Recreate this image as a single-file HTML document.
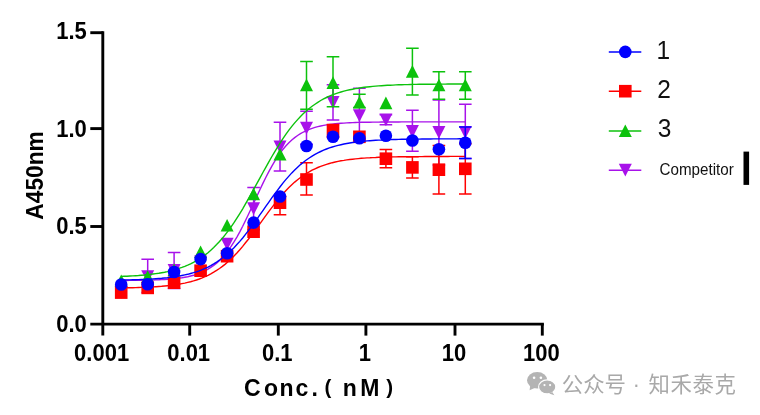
<!DOCTYPE html>
<html><head><meta charset="utf-8"><title>chart</title>
<style>
html,body{margin:0;padding:0;background:#fff;}
body{width:760px;height:415px;overflow:hidden;}
svg{display:block;filter:blur(0.5px);}
text{font-family:"Liberation Sans","Noto Sans CJK SC",sans-serif;}
.tk{font-size:22px;font-weight:bold;fill:#000;}
.lg{font-size:24.5px;fill:#111;}
.cp{font-size:15.2px;fill:#111;}
.yl{font-size:24px;font-weight:bold;fill:#000;}
.xl{font-size:23px;font-weight:bold;fill:#000;}
.wm{font-size:21.4px;fill:#a9a9a9;font-family:"Liberation Sans","Noto Sans CJK SC",sans-serif;}
</style></head><body>
<svg width="760" height="415" viewBox="0 0 760 415">
<rect width="760" height="415" fill="#fff"/>
<g>
<path d="M121.2,280.5 L124.1,280.5 L127.0,280.5 L129.9,280.4 L132.8,280.4 L135.7,280.4 L138.5,280.3 L141.4,280.3 L144.3,280.2 L147.2,280.2 L150.1,280.1 L153.0,280.0 L155.9,279.9 L158.8,279.8 L161.7,279.6 L164.6,279.5 L167.5,279.3 L170.4,279.1 L173.2,278.8 L176.1,278.5 L179.0,278.1 L181.9,277.7 L184.8,277.2 L187.7,276.7 L190.6,276.0 L193.5,275.3 L196.4,274.4 L199.3,273.4 L202.2,272.2 L205.1,270.8 L208.0,269.2 L210.8,267.4 L213.7,265.4 L216.6,263.1 L219.5,260.4 L222.4,257.5 L225.3,254.1 L228.2,250.4 L231.1,246.4 L234.0,241.9 L236.9,237.1 L239.8,231.9 L242.7,226.3 L245.5,220.5 L248.4,214.5 L251.3,208.3 L254.2,202.0 L257.1,195.7 L260.0,189.5 L262.9,183.4 L265.8,177.5 L268.7,171.9 L271.6,166.6 L274.5,161.7 L277.4,157.1 L280.3,153.0 L283.1,149.2 L286.0,145.8 L288.9,142.7 L291.8,140.0 L294.7,137.6 L297.6,135.5 L300.5,133.7 L303.4,132.0 L306.3,130.6 L309.2,129.4 L312.1,128.3 L315.0,127.4 L317.8,126.6 L320.7,126.0 L323.6,125.4 L326.5,124.9 L329.4,124.4 L332.3,124.1 L335.2,123.8 L338.1,123.5 L341.0,123.3 L343.9,123.1 L346.8,122.9 L349.7,122.7 L352.6,122.6 L355.4,122.5 L358.3,122.4 L361.2,122.3 L364.1,122.3 L367.0,122.2 L369.9,122.2 L372.8,122.1 L375.7,122.1 L378.6,122.1 L381.5,122.0 L384.4,122.0 L387.3,122.0 L390.1,122.0 L393.0,122.0 L395.9,122.0 L398.8,122.0 L401.7,121.9 L404.6,121.9 L407.5,121.9 L410.4,121.9 L413.3,121.9 L416.2,121.9 L419.1,121.9 L422.0,121.9 L424.9,121.9 L427.7,121.9 L430.6,121.9 L433.5,121.9 L436.4,121.9 L439.3,121.9 L442.2,121.9 L445.1,121.9 L448.0,121.9 L450.9,121.9 L453.8,121.9 L456.7,121.9 L459.6,121.9 L462.4,121.9 L465.3,121.9" stroke="#a812ea" stroke-width="1.4" fill="none"/>
<path d="M465.3,104.2V158.6M459.0,104.2H471.6M459.0,158.6H471.6" stroke="#a812ea" stroke-width="1.5" fill="none"/>
<path d="M438.9,99.9V164.9M432.6,99.9H445.2M432.6,164.9H445.2" stroke="#a812ea" stroke-width="1.5" fill="none"/>
<path d="M412.4,110.3V151.2M406.1,110.3H418.7M406.1,151.2H418.7" stroke="#a812ea" stroke-width="1.5" fill="none"/>
<path d="M385.9,114.8V124.8M379.6,114.8H392.2M379.6,124.8H392.2" stroke="#a812ea" stroke-width="1.5" fill="none"/>
<path d="M359.4,88.3V139.7M353.1,88.3H365.7M353.1,139.7H365.7" stroke="#a812ea" stroke-width="1.5" fill="none"/>
<path d="M333.0,84.7V120.1M326.7,84.7H339.3M326.7,120.1H339.3" stroke="#a812ea" stroke-width="1.5" fill="none"/>
<path d="M306.5,111.2V144.2M300.2,111.2H312.8M300.2,144.2H312.8" stroke="#a812ea" stroke-width="1.5" fill="none"/>
<path d="M280.0,122.2V171.0M273.7,122.2H286.3M273.7,171.0H286.3" stroke="#a812ea" stroke-width="1.5" fill="none"/>
<path d="M253.6,187.4V229.8M247.3,187.4H259.9M247.3,229.8H259.9" stroke="#a812ea" stroke-width="1.5" fill="none"/>
<path d="M174.1,252.5V288.5M167.8,252.5H180.4M167.8,288.5H180.4" stroke="#a812ea" stroke-width="1.5" fill="none"/>
<path d="M147.7,259.3V292.6M141.4,259.3H154.0M141.4,292.6H154.0" stroke="#a812ea" stroke-width="1.5" fill="none"/>
<polygon points="465.3,138.8 471.8,126.0 458.8,126.0" fill="#a812ea"/>
<polygon points="438.9,138.8 445.4,126.0 432.4,126.0" fill="#a812ea"/>
<polygon points="412.4,137.9 418.9,125.1 405.9,125.1" fill="#a812ea"/>
<polygon points="385.9,126.2 392.4,113.4 379.4,113.4" fill="#a812ea"/>
<polygon points="359.4,122.1 365.9,109.3 352.9,109.3" fill="#a812ea"/>
<polygon points="333.0,108.9 339.5,96.1 326.5,96.1" fill="#a812ea"/>
<polygon points="306.5,134.6 313.0,121.8 300.0,121.8" fill="#a812ea"/>
<polygon points="280.0,153.4 286.5,140.6 273.5,140.6" fill="#a812ea"/>
<polygon points="253.6,215.0 260.1,202.2 247.1,202.2" fill="#a812ea"/>
<polygon points="227.1,250.6 233.6,237.8 220.6,237.8" fill="#a812ea"/>
<polygon points="200.6,268.4 207.1,255.6 194.1,255.6" fill="#a812ea"/>
<polygon points="174.1,276.9 180.6,264.1 167.6,264.1" fill="#a812ea"/>
<polygon points="147.7,283.0 154.2,270.2 141.2,270.2" fill="#a812ea"/>
<polygon points="121.2,298.4 127.7,285.6 114.7,285.6" fill="#a812ea"/>
</g>
<g>
<path d="M121.2,276.4 L124.1,276.3 L127.0,276.2 L129.9,276.0 L132.8,275.9 L135.7,275.7 L138.5,275.5 L141.4,275.2 L144.3,275.0 L147.2,274.7 L150.1,274.4 L153.0,274.0 L155.9,273.6 L158.8,273.2 L161.7,272.7 L164.6,272.2 L167.5,271.6 L170.4,270.9 L173.2,270.2 L176.1,269.3 L179.0,268.4 L181.9,267.4 L184.8,266.3 L187.7,265.1 L190.6,263.8 L193.5,262.3 L196.4,260.7 L199.3,259.0 L202.2,257.0 L205.1,254.9 L208.0,252.7 L210.8,250.2 L213.7,247.5 L216.6,244.6 L219.5,241.5 L222.4,238.2 L225.3,234.6 L228.2,230.9 L231.1,226.9 L234.0,222.7 L236.9,218.2 L239.8,213.6 L242.7,208.8 L245.5,203.9 L248.4,198.8 L251.3,193.7 L254.2,188.4 L257.1,183.1 L260.0,177.8 L262.9,172.5 L265.8,167.3 L268.7,162.1 L271.6,157.0 L274.5,152.1 L277.4,147.3 L280.3,142.7 L283.1,138.3 L286.0,134.2 L288.9,130.2 L291.8,126.4 L294.7,122.9 L297.6,119.6 L300.5,116.5 L303.4,113.6 L306.3,111.0 L309.2,108.5 L312.1,106.3 L315.0,104.2 L317.8,102.3 L320.7,100.5 L323.6,98.9 L326.5,97.5 L329.4,96.1 L332.3,94.9 L335.2,93.9 L338.1,92.9 L341.0,92.0 L343.9,91.2 L346.8,90.4 L349.7,89.8 L352.6,89.2 L355.4,88.6 L358.3,88.2 L361.2,87.7 L364.1,87.3 L367.0,87.0 L369.9,86.7 L372.8,86.4 L375.7,86.1 L378.6,85.9 L381.5,85.7 L384.4,85.5 L387.3,85.3 L390.1,85.2 L393.0,85.1 L395.9,84.9 L398.8,84.8 L401.7,84.7 L404.6,84.6 L407.5,84.6 L410.4,84.5 L413.3,84.4 L416.2,84.4 L419.1,84.3 L422.0,84.3 L424.9,84.2 L427.7,84.2 L430.6,84.2 L433.5,84.2 L436.4,84.1 L439.3,84.1 L442.2,84.1 L445.1,84.1 L448.0,84.0 L450.9,84.0 L453.8,84.0 L456.7,84.0 L459.6,84.0 L462.4,84.0 L465.3,84.0" stroke="#0cc20c" stroke-width="1.4" fill="none"/>
<path d="M465.3,71.7V99.2M459.0,71.7H471.6M459.0,99.2H471.6" stroke="#0cc20c" stroke-width="1.5" fill="none"/>
<path d="M438.9,71.7V99.2M432.6,71.7H445.2M432.6,99.2H445.2" stroke="#0cc20c" stroke-width="1.5" fill="none"/>
<path d="M412.4,48.2V95.0M406.1,48.2H418.7M406.1,95.0H418.7" stroke="#0cc20c" stroke-width="1.5" fill="none"/>
<path d="M359.4,94.2V107.4M353.1,94.2H365.7M353.1,107.4H365.7" stroke="#0cc20c" stroke-width="1.5" fill="none"/>
<path d="M333.0,56.8V106.8M326.7,56.8H339.3M326.7,106.8H339.3" stroke="#0cc20c" stroke-width="1.5" fill="none"/>
<path d="M306.5,61.6V109.3M300.2,61.6H312.8M300.2,109.3H312.8" stroke="#0cc20c" stroke-width="1.5" fill="none"/>
<polygon points="465.3,78.7 471.8,91.3 458.8,91.3" fill="#0cc20c"/>
<polygon points="438.9,78.7 445.4,91.3 432.4,91.3" fill="#0cc20c"/>
<polygon points="412.4,65.1 418.9,77.7 405.9,77.7" fill="#0cc20c"/>
<polygon points="385.9,96.6 392.4,109.2 379.4,109.2" fill="#0cc20c"/>
<polygon points="359.4,95.9 365.9,108.5 352.9,108.5" fill="#0cc20c"/>
<polygon points="333.0,76.3 339.5,88.9 326.5,88.9" fill="#0cc20c"/>
<polygon points="306.5,78.6 313.0,91.2 300.0,91.2" fill="#0cc20c"/>
<polygon points="280.0,148.0 286.5,160.6 273.5,160.6" fill="#0cc20c"/>
<polygon points="253.6,187.7 260.1,200.3 247.1,200.3" fill="#0cc20c"/>
<polygon points="227.1,218.9 233.6,231.5 220.6,231.5" fill="#0cc20c"/>
<polygon points="200.6,245.5 207.1,258.1 194.1,258.1" fill="#0cc20c"/>
<polygon points="174.1,263.5 180.6,276.1 167.6,276.1" fill="#0cc20c"/>
<polygon points="147.7,270.3 154.2,282.9 141.2,282.9" fill="#0cc20c"/>
<polygon points="121.2,274.4 127.7,287.0 114.7,287.0" fill="#0cc20c"/>
</g>
<g>
<path d="M121.2,287.9 L124.1,287.9 L127.0,287.8 L129.9,287.8 L132.8,287.7 L135.7,287.6 L138.5,287.5 L141.4,287.4 L144.3,287.3 L147.2,287.2 L150.1,287.0 L153.0,286.9 L155.9,286.7 L158.8,286.5 L161.7,286.3 L164.6,286.0 L167.5,285.7 L170.4,285.4 L173.2,285.0 L176.1,284.6 L179.0,284.2 L181.9,283.6 L184.8,283.1 L187.7,282.4 L190.6,281.7 L193.5,280.9 L196.4,280.0 L199.3,279.0 L202.2,277.9 L205.1,276.7 L208.0,275.4 L210.8,273.9 L213.7,272.2 L216.6,270.4 L219.5,268.5 L222.4,266.4 L225.3,264.1 L228.2,261.6 L231.1,258.9 L234.0,256.0 L236.9,253.0 L239.8,249.8 L242.7,246.4 L245.5,242.8 L248.4,239.2 L251.3,235.4 L254.2,231.5 L257.1,227.6 L260.0,223.6 L262.9,219.6 L265.8,215.6 L268.7,211.7 L271.6,207.8 L274.5,204.1 L277.4,200.5 L280.3,197.0 L283.1,193.7 L286.0,190.5 L288.9,187.5 L291.8,184.7 L294.7,182.1 L297.6,179.7 L300.5,177.5 L303.4,175.4 L306.3,173.5 L309.2,171.8 L312.1,170.2 L315.0,168.8 L317.8,167.5 L320.7,166.3 L323.6,165.3 L326.5,164.3 L329.4,163.5 L332.3,162.7 L335.2,162.0 L338.1,161.4 L341.0,160.8 L343.9,160.4 L346.8,159.9 L349.7,159.5 L352.6,159.2 L355.4,158.9 L358.3,158.6 L361.2,158.3 L364.1,158.1 L367.0,157.9 L369.9,157.8 L372.8,157.6 L375.7,157.5 L378.6,157.3 L381.5,157.2 L384.4,157.1 L387.3,157.1 L390.1,157.0 L393.0,156.9 L395.9,156.9 L398.8,156.8 L401.7,156.8 L404.6,156.7 L407.5,156.7 L410.4,156.7 L413.3,156.6 L416.2,156.6 L419.1,156.6 L422.0,156.6 L424.9,156.5 L427.7,156.5 L430.6,156.5 L433.5,156.5 L436.4,156.5 L439.3,156.5 L442.2,156.5 L445.1,156.5 L448.0,156.5 L450.9,156.4 L453.8,156.4 L456.7,156.4 L459.6,156.4 L462.4,156.4 L465.3,156.4" stroke="#ff0000" stroke-width="1.4" fill="none"/>
<path d="M465.3,143.7V193.9M459.0,143.7H471.6M459.0,193.9H471.6" stroke="#ff0000" stroke-width="1.5" fill="none"/>
<path d="M438.9,145.5V193.9M432.6,145.5H445.2M432.6,193.9H445.2" stroke="#ff0000" stroke-width="1.5" fill="none"/>
<path d="M412.4,156.8V178.0M406.1,156.8H418.7M406.1,178.0H418.7" stroke="#ff0000" stroke-width="1.5" fill="none"/>
<path d="M385.9,149.6V167.8M379.6,149.6H392.2M379.6,167.8H392.2" stroke="#ff0000" stroke-width="1.5" fill="none"/>
<path d="M333.0,124.6V137.4M326.7,124.6H339.3M326.7,137.4H339.3" stroke="#ff0000" stroke-width="1.5" fill="none"/>
<path d="M306.5,162.7V195.1M300.2,162.7H312.8M300.2,195.1H312.8" stroke="#ff0000" stroke-width="1.5" fill="none"/>
<path d="M280.0,196.2V214.8M273.7,196.2H286.3M273.7,214.8H286.3" stroke="#ff0000" stroke-width="1.5" fill="none"/>
<rect x="459.0" y="162.5" width="12.6" height="12.6" fill="#ff0000"/>
<rect x="432.6" y="163.4" width="12.6" height="12.6" fill="#ff0000"/>
<rect x="406.1" y="161.1" width="12.6" height="12.6" fill="#ff0000"/>
<rect x="379.6" y="152.4" width="12.6" height="12.6" fill="#ff0000"/>
<rect x="353.1" y="130.5" width="12.6" height="12.6" fill="#ff0000"/>
<rect x="326.7" y="124.7" width="12.6" height="12.6" fill="#ff0000"/>
<rect x="300.2" y="173.2" width="12.6" height="12.6" fill="#ff0000"/>
<rect x="273.7" y="196.4" width="12.6" height="12.6" fill="#ff0000"/>
<rect x="247.3" y="225.4" width="12.6" height="12.6" fill="#ff0000"/>
<rect x="220.8" y="249.9" width="12.6" height="12.6" fill="#ff0000"/>
<rect x="194.3" y="264.4" width="12.6" height="12.6" fill="#ff0000"/>
<rect x="167.8" y="276.4" width="12.6" height="12.6" fill="#ff0000"/>
<rect x="141.4" y="281.6" width="12.6" height="12.6" fill="#ff0000"/>
<rect x="114.9" y="286.3" width="12.6" height="12.6" fill="#ff0000"/>
</g>
<g>
<path d="M121.2,280.1 L124.1,280.0 L127.0,279.9 L129.9,279.9 L132.8,279.8 L135.7,279.7 L138.5,279.6 L141.4,279.5 L144.3,279.4 L147.2,279.2 L150.1,279.1 L153.0,278.9 L155.9,278.7 L158.8,278.5 L161.7,278.3 L164.6,278.0 L167.5,277.7 L170.4,277.3 L173.2,277.0 L176.1,276.5 L179.0,276.1 L181.9,275.5 L184.8,274.9 L187.7,274.3 L190.6,273.5 L193.5,272.7 L196.4,271.8 L199.3,270.8 L202.2,269.7 L205.1,268.4 L208.0,267.1 L210.8,265.6 L213.7,263.9 L216.6,262.1 L219.5,260.2 L222.4,258.0 L225.3,255.7 L228.2,253.2 L231.1,250.5 L234.0,247.7 L236.9,244.6 L239.8,241.4 L242.7,238.0 L245.5,234.4 L248.4,230.7 L251.3,226.8 L254.2,222.9 L257.1,218.8 L260.0,214.7 L262.9,210.6 L265.8,206.4 L268.7,202.3 L271.6,198.2 L274.5,194.2 L277.4,190.3 L280.3,186.5 L283.1,182.9 L286.0,179.4 L288.9,176.1 L291.8,172.9 L294.7,170.0 L297.6,167.2 L300.5,164.6 L303.4,162.3 L306.3,160.0 L309.2,158.0 L312.1,156.1 L315.0,154.4 L317.8,152.9 L320.7,151.5 L323.6,150.2 L326.5,149.0 L329.4,147.9 L332.3,147.0 L335.2,146.1 L338.1,145.4 L341.0,144.7 L343.9,144.0 L346.8,143.5 L349.7,143.0 L352.6,142.5 L355.4,142.1 L358.3,141.8 L361.2,141.4 L364.1,141.2 L367.0,140.9 L369.9,140.7 L372.8,140.5 L375.7,140.3 L378.6,140.1 L381.5,140.0 L384.4,139.8 L387.3,139.7 L390.1,139.6 L393.0,139.5 L395.9,139.5 L398.8,139.4 L401.7,139.3 L404.6,139.3 L407.5,139.2 L410.4,139.2 L413.3,139.1 L416.2,139.1 L419.1,139.1 L422.0,139.0 L424.9,139.0 L427.7,139.0 L430.6,139.0 L433.5,138.9 L436.4,138.9 L439.3,138.9 L442.2,138.9 L445.1,138.9 L448.0,138.9 L450.9,138.9 L453.8,138.9 L456.7,138.9 L459.6,138.8 L462.4,138.8 L465.3,138.8" stroke="#0000ff" stroke-width="1.4" fill="none"/>
<path d="M465.3,126.9V158.4M459.0,126.9H471.6M459.0,158.4H471.6" stroke="#0000ff" stroke-width="1.5" fill="none"/>
<circle cx="465.3" cy="142.7" r="6.3" fill="#0000ff"/>
<circle cx="438.9" cy="149.3" r="6.3" fill="#0000ff"/>
<circle cx="412.4" cy="140.5" r="6.3" fill="#0000ff"/>
<circle cx="385.9" cy="135.7" r="6.3" fill="#0000ff"/>
<circle cx="359.4" cy="138.2" r="6.3" fill="#0000ff"/>
<circle cx="333.0" cy="136.8" r="6.3" fill="#0000ff"/>
<circle cx="306.5" cy="146.0" r="6.3" fill="#0000ff"/>
<circle cx="280.0" cy="196.5" r="6.3" fill="#0000ff"/>
<circle cx="253.6" cy="222.6" r="6.3" fill="#0000ff"/>
<circle cx="227.1" cy="253.3" r="6.3" fill="#0000ff"/>
<circle cx="200.6" cy="259.1" r="6.3" fill="#0000ff"/>
<circle cx="174.1" cy="272.0" r="6.3" fill="#0000ff"/>
<circle cx="147.7" cy="284.3" r="6.3" fill="#0000ff"/>
<circle cx="121.2" cy="284.5" r="6.3" fill="#0000ff"/>
</g>
<path d="M102.8,31.3V335.6" stroke="#000" stroke-width="2.9" fill="none"/>
<path d="M90.3,324.1H543.9" stroke="#000" stroke-width="2.9" fill="none"/>
<path d="M90.3,32.7H103" stroke="#000" stroke-width="2.9"/>
<path d="M90.3,128.6H103" stroke="#000" stroke-width="2.9"/>
<path d="M90.3,226.5H103" stroke="#000" stroke-width="2.9"/>
<path d="M189.7,324.1V335.6" stroke="#000" stroke-width="2.9"/>
<path d="M278.3,324.1V335.6" stroke="#000" stroke-width="2.9"/>
<path d="M365.9,324.1V335.6" stroke="#000" stroke-width="2.9"/>
<path d="M455.0,324.1V335.6" stroke="#000" stroke-width="2.9"/>
<path d="M542.3,324.1V335.6" stroke="#000" stroke-width="2.9"/>
<text transform="translate(86.8,38.7) scale(1,1.06)" text-anchor="end" class="tk">1.5</text>
<text transform="translate(86.8,136.7) scale(1,1.06)" text-anchor="end" class="tk">1.0</text>
<text transform="translate(86.8,234.4) scale(1,1.06)" text-anchor="end" class="tk">0.5</text>
<text transform="translate(86.8,331.7) scale(1,1.06)" text-anchor="end" class="tk">0.0</text>
<text transform="translate(101.6,360.6) scale(1,1.05)" text-anchor="middle" class="tk">0.001</text>
<text transform="translate(188.7,360.6) scale(1,1.05)" text-anchor="middle" class="tk">0.01</text>
<text transform="translate(277.3,360.6) scale(1,1.05)" text-anchor="middle" class="tk">0.1</text>
<text transform="translate(364.9,360.6) scale(1,1.05)" text-anchor="middle" class="tk">1</text>
<text transform="translate(454.0,360.6) scale(1,1.05)" text-anchor="middle" class="tk">10</text>
<text transform="translate(541.3,360.6) scale(1,1.05)" text-anchor="middle" class="tk">100</text>
<text transform="translate(43,175.4) rotate(-90)" text-anchor="middle" class="yl" textLength="88.5" lengthAdjust="spacingAndGlyphs">A450nm</text>
<text class="xl" y="395.8" x="244.1 263.9 279.5 295.5 311.4 324.4 335 342.8 360.3 386.2">Conc.<tspan font-size="20.5" dy="-1.6">(</tspan><tspan dy="1.6"> nM</tspan><tspan font-size="20.5" dy="-1.6">)</tspan></text>
<g fill="#b4b4b4">
<ellipse cx="537.2" cy="380.3" rx="10.2" ry="8.3"/>
<path d="M530.2,385.6L529.6,390.3L535.2,387.8Z"/>
</g>
<ellipse cx="547.2" cy="386.9" rx="8.6" ry="7" fill="#b4b4b4" stroke="#fff" stroke-width="1.1"/>
<path d="M552.2,392L554.4,395.2L549.2,393.6Z" fill="#b4b4b4"/>
<g fill="#fff">
<circle cx="534.1" cy="377.8" r="1.3"/><circle cx="540.9" cy="377.8" r="1.3"/>
<circle cx="544.5" cy="385.1" r="1.1"/><circle cx="550.1" cy="385.1" r="1.1"/>
</g>
<text class="wm" y="392.2"><tspan x="561.8" letter-spacing="0">公众号 </tspan><tspan x="632.8">· </tspan><tspan x="648.6" letter-spacing="0.6">知禾泰克</tspan></text>
<path d="M608.8,51.9H641.3" stroke="#0000ff" stroke-width="1.5"/>
<circle cx="625.3" cy="51.9" r="6.3" fill="#0000ff"/>
<path d="M608.8,91.2H641.3" stroke="#ff0000" stroke-width="1.5"/>
<rect x="619.0" y="84.9" width="12.6" height="12.6" fill="#ff0000"/>
<path d="M608.8,130.9H641.3" stroke="#0cc20c" stroke-width="1.5"/>
<polygon points="625.3,124.4 631.8,137.0 618.8,137.0" fill="#0cc20c"/>
<path d="M608.8,170.2H641.3" stroke="#a812ea" stroke-width="1.5"/>
<polygon points="625.3,176.6 631.8,163.8 618.8,163.8" fill="#a812ea"/>
<text transform="translate(656.6,58.9) scale(1,1.03)" class="lg">1</text>
<text transform="translate(657.3,98) scale(1,1.03)" class="lg">2</text>
<text transform="translate(657.8,137.3) scale(1,1.03)" class="lg">3</text>
<text transform="translate(659.5,174.8) scale(1,1.1)" class="cp">Competitor</text>
<rect x="743.5" y="151.6" width="5.6" height="33.3" fill="#000"/>
</svg>
</body></html>
